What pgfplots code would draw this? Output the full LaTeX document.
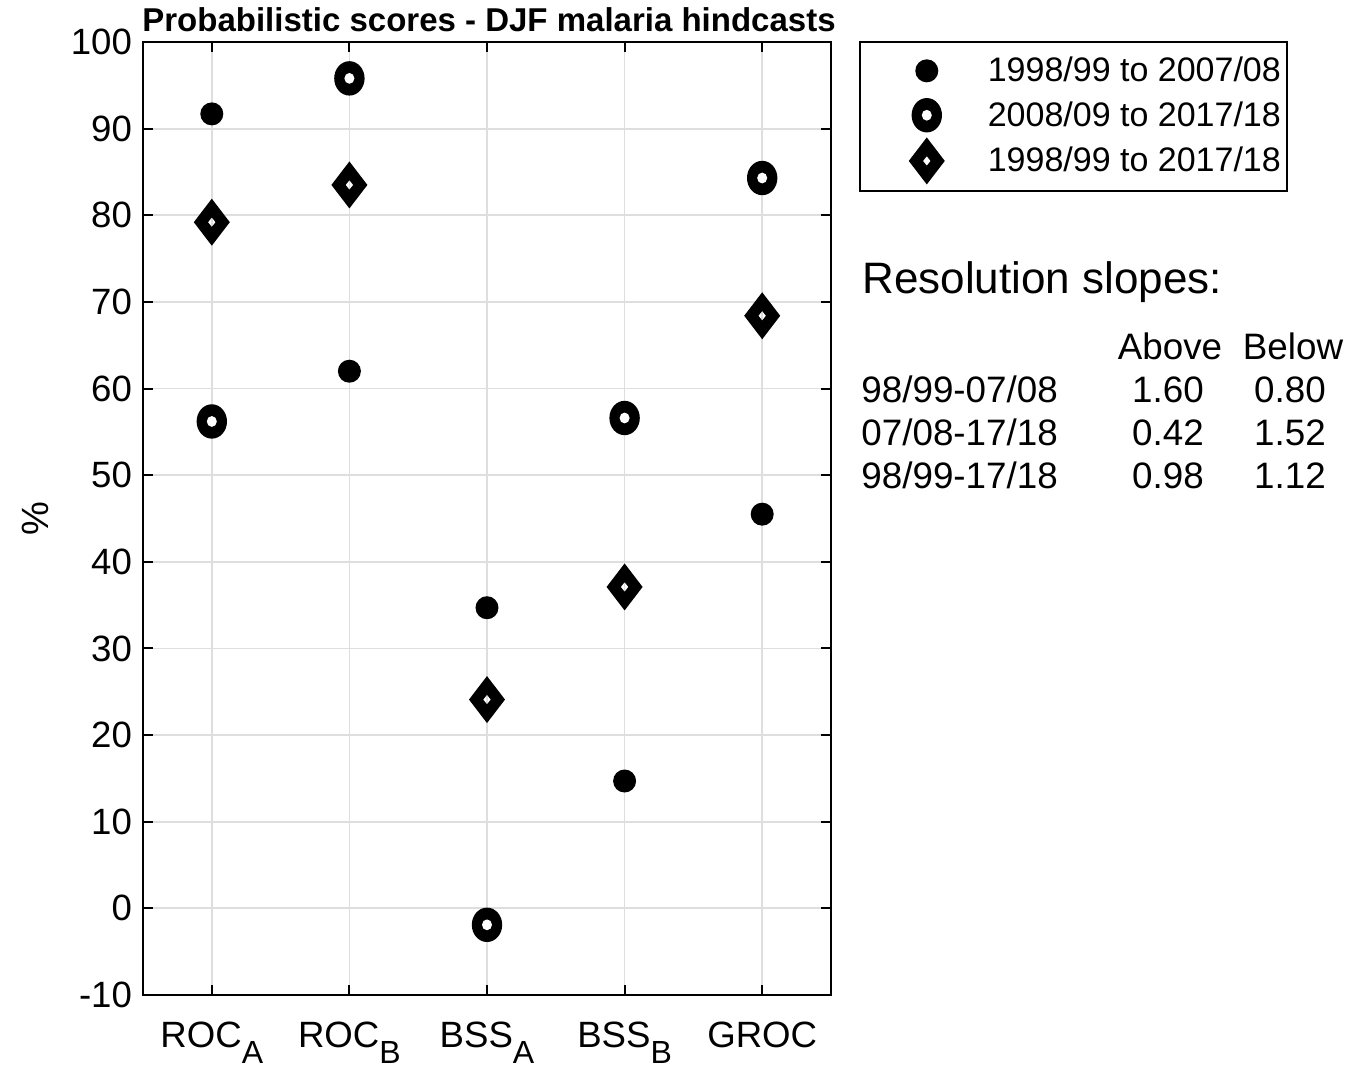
\documentclass[border=0pt]{standalone}
\usepackage{pgfplots}
\pgfplotsset{compat=1.18}
\usepackage{fontspec}
\setmainfont{Liberation Sans}

% markers
\pgfdeclareplotmark{dot}{%
  \pgfpathcircle{\pgfpointorigin}{5.75pt}%
  \pgfusepathqfill}
\pgfdeclareplotmark{ring}{%
  \pgfpathellipse{\pgfpointorigin}{\pgfqpoint{7.6pt}{0pt}}{\pgfqpoint{0pt}{8.6pt}}%
  \pgfusepathqfill
  \pgfscope\pgfsetfillcolor{white}%
  \pgfpathellipse{\pgfpointorigin}{\pgfqpoint{2.5pt}{0pt}}{\pgfqpoint{0pt}{2.7pt}}%
  \pgfusepathqfill\endpgfscope}
\pgfdeclareplotmark{hdiamond}{%
  \pgfpathmoveto{\pgfqpoint{0pt}{11.75pt}}\pgfpathlineto{\pgfqpoint{9pt}{0pt}}%
  \pgfpathlineto{\pgfqpoint{0pt}{-11.75pt}}\pgfpathlineto{\pgfqpoint{-9pt}{0pt}}\pgfpathclose
  \pgfpathmoveto{\pgfqpoint{0pt}{2.4pt}}\pgfpathlineto{\pgfqpoint{1.9pt}{0pt}}%
  \pgfpathlineto{\pgfqpoint{0pt}{-2.4pt}}\pgfpathlineto{\pgfqpoint{-1.9pt}{0pt}}\pgfpathclose
  \pgfseteorule\pgfusepathqfill}

\newcommand{\sub}[1]{\raisebox{-8pt}{\fontsize{16}{16}\selectfont #1}}
\newcommand{\legtxt}[1]{\makebox[149.5pt][l]{\fontsize{17}{20}\selectfont #1}}

\begin{document}
\begin{tikzpicture}[x=1pt,y=1pt]
\useasboundingbox (0,0) rectangle (675,533.5);
\begin{axis}[
  at={(71.5pt,36pt)}, anchor=south west,
  scale only axis, width=344pt, height=476.5pt,
  xmin=0.5, xmax=5.5, ymin=-10, ymax=100,
  xtick={1,2,3,4,5},
  xticklabels={ROC\sub{A},ROC\sub{B},BSS\sub{A},BSS\sub{B},GROC},
  ytick={-10,0,10,20,30,40,50,60,70,80,90,100},
  yticklabels={-10,0,10,20,30,40,50,60,70,80,90,100},
  tick label style={font=\fontsize{18.3}{20}\selectfont},
  x tick label style={anchor=base, yshift=-26pt},
  y tick label style={xshift=-2pt},
  grid=major, major grid style={draw=black!13, line width=0.9pt},
  axis line style={line width=1pt},
  major tick length=5pt, tick style={black, line width=1pt},
  clip=false,
  legend style={at={(1.0407,1.001)}, anchor=north west, draw=black, line width=0.8pt,
    inner xsep=0pt, inner ysep=3.4pt, nodes={inner sep=0pt}},
  legend cell align=left,
  mylegend/.style={legend image code/.code={%
    \path[draw=none,fill=none] (-33.5pt,-11.1pt) rectangle (30.5pt,11.1pt);
    \draw[##1] plot coordinates {(0pt,0pt)};}},
]
\addplot[only marks, mark=dot, mark options={fill=black}, mylegend]
  coordinates {(1,91.7) (2,62.0) (3,34.7) (4,14.7) (5,45.5)};
\addlegendentry{\legtxt{1998/99 to 2007/08}}
\addplot[only marks, mark=ring, mark options={fill=black}, mylegend]
  coordinates {(1,56.2) (2,95.8) (3,-1.9) (4,56.6) (5,84.3)};
\addlegendentry{\legtxt{2008/09 to 2017/18}}
\addplot[only marks, mark=hdiamond, mark options={fill=black}, mylegend]
  coordinates {(1,79.2) (2,83.5) (3,24.1) (4,37.1) (5,68.4)};
\addlegendentry{\legtxt{1998/99 to 2017/18}}
\end{axis}
% title and y label
\node[anchor=base, font=\fontsize{16.5}{18}\selectfont\bfseries] at (244.5,517.5)
  {Probabilistic scores - DJF malaria hindcasts};
\node[rotate=90, font=\fontsize{19}{22}\selectfont] at (17.5,274) {\%};
% resolution slopes
\begin{scope}[font=\fontsize{18.4}{20}\selectfont]
\node[anchor=base west, font=\fontsize{22}{24}\selectfont, inner sep=0pt] at (431,386.5) {Resolution slopes:};
\node[anchor=base, inner sep=0pt] at (585,353.5) {Above};
\node[anchor=base, inner sep=0pt] at (646.5,353.5) {Below};
\node[anchor=base west, inner sep=0pt] at (430.5,332) {98/99-07/08};
\node[anchor=base west, inner sep=0pt] at (430.5,310.5) {07/08-17/18};
\node[anchor=base west, inner sep=0pt] at (430.5,289) {98/99-17/18};
\node[anchor=base, inner sep=0pt] at (584,332) {1.60};
\node[anchor=base, inner sep=0pt] at (584,310.5) {0.42};
\node[anchor=base, inner sep=0pt] at (584,289) {0.98};
\node[anchor=base, inner sep=0pt] at (645,332) {0.80};
\node[anchor=base, inner sep=0pt] at (645,310.5) {1.52};
\node[anchor=base, inner sep=0pt] at (645,289) {1.12};
\end{scope}
\end{tikzpicture}
\end{document}
